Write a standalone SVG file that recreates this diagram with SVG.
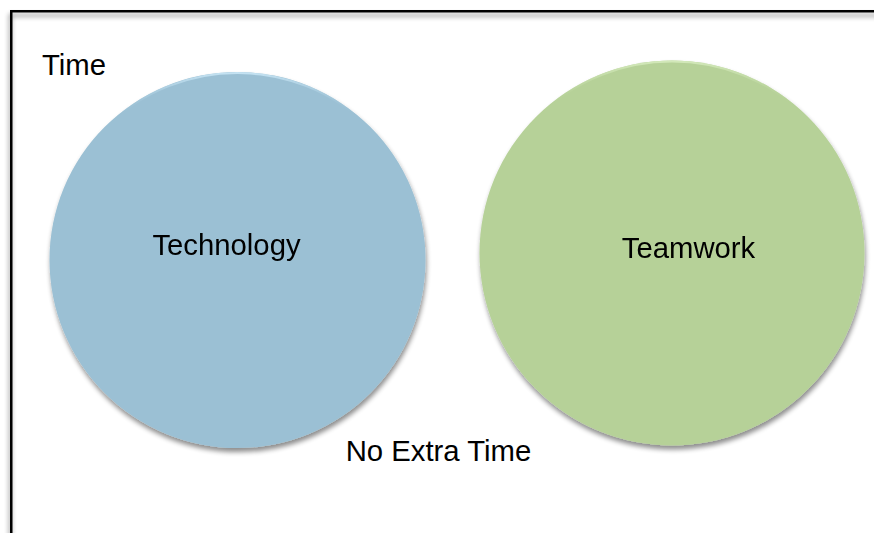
<svg xmlns="http://www.w3.org/2000/svg" width="874" height="533" viewBox="0 0 874 533">
  <style>
    .label { font-family: "Liberation Sans", Arial, sans-serif; font-size: 29.3px; fill: #000; }
    .frame { fill: none; stroke: #000; stroke-width: 2.5; }
  </style>
  <defs>
    <!-- soft shadow under each circle -->
    <filter id="circleShadow" x="-10%" y="-10%" width="125%" height="125%">
      <feGaussianBlur in="SourceAlpha" stdDeviation="2.5"/>
      <feOffset dx="1" dy="3.5" result="blur"/>
      <feComponentTransfer><feFuncA type="linear" slope="0.45"/></feComponentTransfer>
      <feMerge><feMergeNode/><feMergeNode in="SourceGraphic"/></feMerge>
    </filter>
    <!-- shadow of the frame lines -->
    <filter id="frameShadow" x="-5%" y="-5%" width="110%" height="110%">
      <feGaussianBlur in="SourceAlpha" stdDeviation="2.5"/>
      <feOffset dx="-1" dy="4"/>
      <feComponentTransfer><feFuncA type="linear" slope="0.45"/></feComponentTransfer>
      <feMerge><feMergeNode/><feMergeNode in="SourceGraphic"/></feMerge>
    </filter>
    <!-- lighter rim along the top edge of the circles -->
    <linearGradient id="rimBlue" x1="0" y1="0" x2="0" y2="1">
      <stop offset="0" stop-color="#c4e2f2"/>
      <stop offset="0.12" stop-color="#9bc0d4" stop-opacity="0"/>
    </linearGradient>
    <linearGradient id="rimGreen" x1="0" y1="0" x2="0" y2="1">
      <stop offset="0" stop-color="#d2e8b9"/>
      <stop offset="0.12" stop-color="#b6d198" stop-opacity="0"/>
    </linearGradient>
  </defs>

  <rect width="874" height="533" fill="#fff"/>

  <!-- outer frame, open to the right and bottom -->
  <g id="frame" filter="url(#frameShadow)">
    <rect class="frame" x="11.25" y="11.25" width="880" height="540"/>
  </g>

  <g id="time-label">
    <text class="label" x="42" y="75">Time</text>
  </g>

  <g id="technology" filter="url(#circleShadow)">
    <circle cx="237.5" cy="260" r="188" fill="#9bc0d4"/>
    <circle cx="237.5" cy="260" r="187" fill="none" stroke="url(#rimBlue)" stroke-width="2"/>
    <text class="label" x="226.5" y="255" text-anchor="middle">Technology</text>
  </g>

  <g id="teamwork" filter="url(#circleShadow)">
    <circle cx="672" cy="253" r="192.5" fill="#b6d198"/>
    <circle cx="672" cy="253" r="191.5" fill="none" stroke="url(#rimGreen)" stroke-width="2"/>
    <text class="label" x="688.5" y="258" text-anchor="middle">Teamwork</text>
  </g>

  <g id="no-extra-time">
    <text class="label" x="438.5" y="461" text-anchor="middle">No Extra Time</text>
  </g>

  <g id="connectors"></g>
</svg>
